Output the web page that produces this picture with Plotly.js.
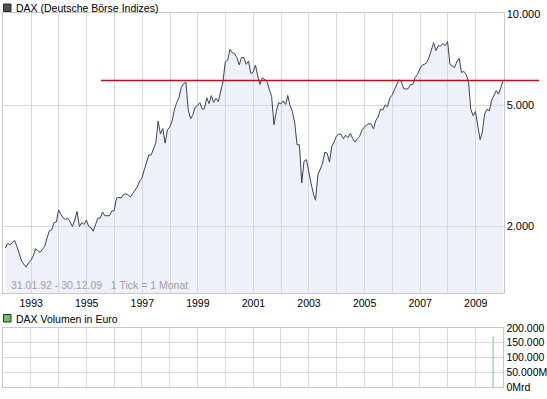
<!DOCTYPE html>
<html><head><meta charset="utf-8">
<script src="https://cdn.plot.ly/plotly-3.0.1.min.js"></script>
<style>html,body{margin:0;padding:0;background:#fff;overflow:hidden}</style>
</head><body><div id="chart" style="width:547px;height:399px"></div>
<script>
// ---- data (monthly closes) ----
const startYear = 1992;
const dax1992 = [1700, 1760, 1740, 1770, 1800, 1720, 1630, 1540, 1500, 1470, 1520, 1545];
const dax1993 = [1600, 1690, 1665, 1645, 1680, 1720, 1830, 1935, 1950, 2060, 2070, 2267];
const dax1994 = [2190, 2130, 2110, 2130, 2070, 2000, 2100, 2240, 2000, 2060, 2030, 2100];
const dax1995 = [2000, 1980, 1930, 2030, 2130, 2130, 2230, 2170, 2170, 2170, 2250, 2254];
const dax1996 = [2480, 2490, 2480, 2550, 2560, 2540, 2500, 2560, 2640, 2700, 2820, 2889];
const dax1997 = [3077, 3250, 3440, 3440, 3575, 3770, 4440, 4030, 4200, 3760, 4160, 4250];
const dax1998 = [4450, 4860, 5110, 5300, 5730, 5900, 5970, 4840, 4520, 4670, 4940, 5002];
const dax1999 = [5110, 4860, 4880, 5300, 5070, 5390, 5120, 5280, 5150, 5600, 6000, 6958];
const dax2000 = [7050, 7650, 7460, 7410, 7190, 6800, 7190, 7190, 6830, 7000, 6372, 6434];
const dax2001 = [6795, 6208, 5870, 6170, 6100, 6000, 5660, 5354, 4322, 4779, 5106, 5060];
const dax2002 = [5180, 5039, 5397, 4990, 4780, 4383, 3717, 3712, 2782, 3280, 3320, 3000];
const dax2003 = [2782, 2560, 2440, 2953, 3077, 3221, 3513, 3484, 3257, 3670, 3800, 3965];
const dax2004 = [4030, 4018, 3885, 3990, 3921, 4053, 3895, 3790, 3893, 3960, 4160, 4256];
const dax2005 = [4320, 4360, 4349, 4190, 4461, 4587, 4860, 4829, 5027, 4950, 5290, 5408];
const dax2006 = [5636, 5797, 6073, 6009, 5692, 5660, 5682, 5860, 5874, 6180, 6330, 6600];
const dax2007 = [6789, 6834, 6917, 7193, 7677, 8052, 7577, 7860, 7860, 7990, 7871, 8120];
const dax2008 = [6834, 6748, 6663, 6974, 7160, 6420, 6480, 6330, 5996, 4860, 4625, 4779];
const dax2009 = [4338, 3859, 4085, 4690, 4860, 4800, 5190, 5390, 5600, 5450, 5730, 6040];
const daxMonthly = [].concat(dax1992, dax1993, dax1994, dax1995, dax1996, dax1997, dax1998,
  dax1999, dax2000, dax2001, dax2002, dax2003, dax2004, dax2005, dax2006, dax2007, dax2008, dax2009);
const refLevel = 6040;

const volumeDates = ['2009-08-20'];
const volumeValues = [170000];

const priceTickVals = [2000, 5000, 10000];
const priceTickText = ['2.000', '5.000', '10.000'];
const volTickVals = [0, 50000, 100000, 150000, 200000];
const volTickText = ['0Mrd', '50.000M', '100.000', '150.000', '200.000'];

const titleMain = 'DAX (Deutsche Börse Indizes)';
const titleVol = 'DAX Volumen in Euro';
const footnote = '31.01.92 - 30.12.09\u00a0\u00a0\u00a01 Tick = 1 Monat';

// monthly dates (month ends)
const daxDates = daxMonthly.map((v, i) => {
  const y = startYear + Math.floor(i / 12);
  const m = (i % 12) + 1;
  return y + '-' + (m < 10 ? '0' + m : m) + '-28';
});

// ---- layout helpers ----
const W = 547, H = 399;
const px = x => x / W;
const py = y => 1 - y / H;
const FONT = 'Liberation Sans, Arial, sans-serif';
const GRID = '#dadada';
const BORDER = '#c8c8c8';

const traces = [
  {
    type: 'scatter', mode: 'lines', x: daxDates, y: daxMonthly,
    xaxis: 'x', yaxis: 'y',
    line: {color: '#3b4358', width: 1},
    fill: 'tozeroy', fillcolor: 'rgba(198,208,238,0.30)',
    hoverinfo: 'skip'
  },
  {
    type: 'bar', x: volumeDates, y: volumeValues, xaxis: 'x2', yaxis: 'y2',
    width: 86400000 * 12,
    marker: {color: '#6cc46c', line: {width: 0}},
    hoverinfo: 'skip'
  }
];

const layout = {
  width: W, height: H,
  margin: {l: 0, r: 0, t: 0, b: 0, pad: 0},
  paper_bgcolor: '#ffffff', plot_bgcolor: '#ffffff',
  showlegend: false,
  font: {family: FONT, size: 11, color: '#000'},
  xaxis: {
    type: 'date', domain: [px(3.3), px(503.5)], anchor: 'y',
    range: ['1992-01-01', '2010-01-01'],
    tick0: '1993-01-01', dtick: 'M24', tickformat: '%Y',
    ticks: '', showgrid: true, gridcolor: GRID, gridwidth: 1,
    minor: {dtick: 'M12', tick0: '1992-01-01', showgrid: true, gridcolor: GRID, gridwidth: 1, ticks: ''},
    showline: true, mirror: true, linecolor: BORDER, linewidth: 1,
    zeroline: false, fixedrange: true,
    tickfont: {family: FONT, size: 10.5, color: '#000'}
  },
  yaxis: {
    type: 'log', domain: [py(293.3), py(13.3)], anchor: 'x',
    range: [3.0812, 4.0023], side: 'right',
    tickvals: priceTickVals, ticktext: priceTickText,
    ticks: '', showgrid: true, gridcolor: GRID, gridwidth: 1,
    showline: true, mirror: true, linecolor: BORDER, linewidth: 1,
    zeroline: false, fixedrange: true,
    tickfont: {family: FONT, size: 11, color: '#000'}
  },
  xaxis2: {
    type: 'date', domain: [px(2.8), px(503.3)], anchor: 'y2',
    range: ['1992-01-01', '2010-01-01'],
    tick0: '1992-01-01', dtick: 'M12', showticklabels: false,
    ticks: '', showgrid: true, gridcolor: GRID, gridwidth: 1,
    showline: true, mirror: true, linecolor: BORDER, linewidth: 1,
    zeroline: false, fixedrange: true
  },
  yaxis2: {
    domain: [py(387), py(328)], anchor: 'x2',
    range: [0, 200000], side: 'right',
    tickvals: volTickVals, ticktext: volTickText,
    ticks: '', showgrid: true, gridcolor: GRID, gridwidth: 1,
    showline: true, mirror: true, linecolor: BORDER, linewidth: 1,
    zeroline: false, fixedrange: true,
    tickfont: {family: FONT, size: 10.5, color: '#000'}
  },
  shapes: [
    {type: 'line', xref: 'paper', yref: 'y', x0: px(101), x1: px(539), y0: refLevel, y1: refLevel,
     line: {color: '#b8101e', width: 1.5}},
    {type: 'rect', xref: 'paper', yref: 'paper', x0: px(3.5), x1: px(11), y0: py(11.5), y1: py(4),
     fillcolor: '#505050', line: {color: '#2a2a2a', width: 1}},
    {type: 'rect', xref: 'paper', yref: 'paper', x0: px(3.5), x1: px(11), y0: py(322), y1: py(314.5),
     fillcolor: '#66c466', line: {color: '#2a2a2a', width: 1}}
  ],
  annotations: [
    {xref: 'paper', yref: 'paper', x: px(13.5), y: py(8), xanchor: 'left', yanchor: 'middle',
     text: titleMain, showarrow: false, font: {family: FONT, size: 10.5, color: '#000'}},
    {xref: 'paper', yref: 'paper', x: px(13.5), y: py(318.5), xanchor: 'left', yanchor: 'middle',
     text: titleVol, showarrow: false, font: {family: FONT, size: 10.5, color: '#000'}},
    {xref: 'paper', yref: 'paper', x: px(9), y: py(284.5), xanchor: 'left', yanchor: 'middle',
     text: footnote, showarrow: false, font: {family: FONT, size: 10.5, color: '#a0a0a0'}}
  ]
};

Plotly.newPlot('chart', traces, layout, {displayModeBar: false, staticPlot: true});
</script>
</body></html>
